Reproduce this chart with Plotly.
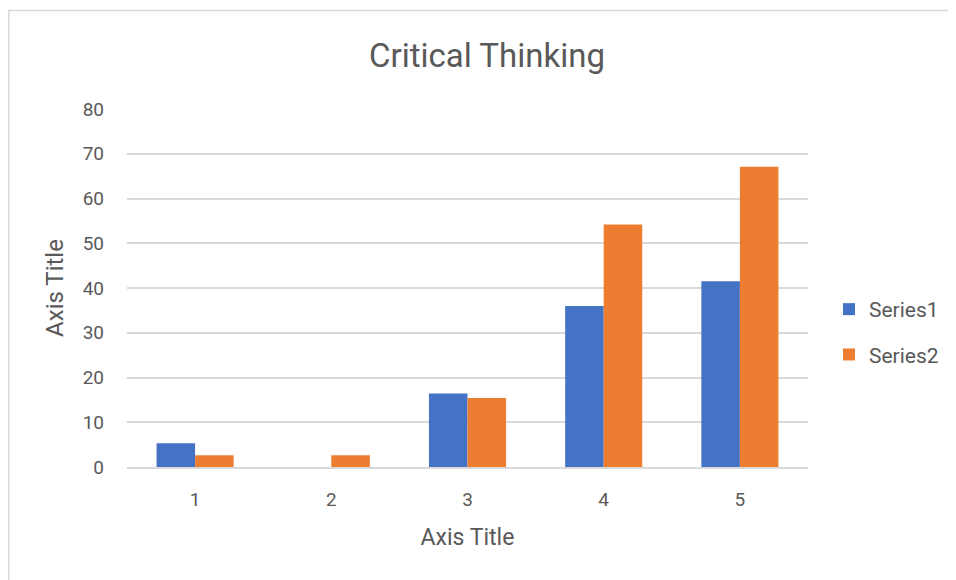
import plotly.graph_objects as go

categories = ["1", "2", "3", "4", "5"]
series1 = [5.3, 0, 16.4, 36.0, 41.5]
series2 = [2.6, 2.6, 15.4, 54.2, 67.1]
y_ticks = [0, 10, 20, 30, 40, 50, 60, 70, 80]

FONT = "Roboto, sans-serif"
GREY = "#595959"

# page offset of the plot div (body margin)
OFF = 8
W, H = 956 - OFF, 580 - OFF
L, R, T, B = 127 - OFF, 148, 109 - OFF, 113
pw, ph = W - L - R, H - T - B


def px_x(x):
    return (x - OFF - L) / pw


def px_y(y):
    return (H + OFF - B - y) / ph


fig = go.Figure()
fig.add_trace(go.Bar(name="Series1", x=categories, y=series1, marker_color="#4472C4",
                     marker_line_width=0, legendgroup="s1"))
fig.add_trace(go.Bar(name="Series2", x=categories, y=series2, marker_color="#ED7D31",
                     marker_line_width=0, legendgroup="s2"))

fig.update_layout(
    width=W, height=H,
    margin=dict(l=L, r=R, t=T, b=B, pad=0),
    paper_bgcolor="white", plot_bgcolor="white",
    barmode="group", bargap=0.434, bargroupgap=0,
    font=dict(family=FONT, color=GREY, size=18),
    title=dict(text="Critical Thinking", xref="container", x=(487 - OFF) / W,
               xanchor="center", yref="container", y=1 - (55 - OFF) / H,
               yanchor="middle", font=dict(family=FONT, size=33, color=GREY)),
    xaxis=dict(type="category", range=[-0.5, 4.5], showgrid=False,
               showline=True, linecolor="#d9d9d9", linewidth=1.5,
               ticks="", ticklabelstandoff=14, tickfont=dict(size=19, color=GREY),
               title=dict(text="Axis Title", standoff=19,
                          font=dict(size=23, color=GREY))),
    yaxis=dict(range=[0, 80], tickvals=y_ticks, showgrid=True,
               gridcolor="#d9d9d9", gridwidth=1.5, zeroline=False,
               ticks="", ticklabelstandoff=22, tickfont=dict(size=19, color=GREY),
               title=dict(text="Axis Title", standoff=12,
                          font=dict(size=24, color=GREY))),
    legend=dict(x=px_x(829), xanchor="left", y=px_y(332), yanchor="middle",
                font=dict(size=21, color=GREY), itemwidth=30, borderwidth=0,
                tracegroupgap=15, bgcolor="rgba(0,0,0,0)"),
    shapes=[dict(type="rect", xref="paper", yref="paper",
                 x0=(0.75 - L) / pw, x1=1.6, y0=-0.6, y1=(H - B - (10.5 - OFF)) / ph,
                 line=dict(color="#d9d9d9", width=1.5), fillcolor="rgba(0,0,0,0)",
                 layer="below")],
)

fig.write_html("out.html")
